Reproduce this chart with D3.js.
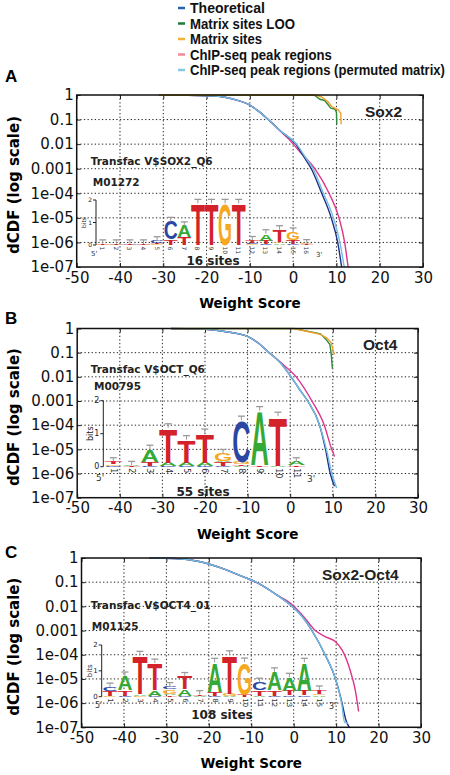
<!DOCTYPE html>
<html><head><meta charset="utf-8">
<script src="https://cdn.jsdelivr.net/npm/d3@7"></script>
<style>body{margin:0;background:#fff}</style>
</head><body><svg id="c" width="450" height="775"></svg>
<script>
// ---------------- DATA ----------------
const xTicks=[-50,-40,-30,-20,-10,0,10,20,30];
const yTicks=[1,0.1,0.01,0.001,1e-4,1e-5,1e-6,1e-7];
const yTickLabels=["1","0.1","0.01","0.001","1e-04","1e-05","1e-06","1e-07"];
const seriesNames=["Theoretical","Matrix sites LOO","Matrix sites","ChIP-seq peak regions","ChIP-seq peak regions (permuted matrix)"];
const panelLetters=["A","B","C"];
const factorNames=["Sox2","Oct4","Sox2-Oct4"];
const matrixNames=["Transfac V$SOX2_Q6","Transfac V$OCT_Q6","Transfac V$OCT4_01"];
const matrixIds=["M01272","M00795","M01125"];
const siteCounts=["16 sites","55 sites","108 sites"];

// curves: [weight score, dCDF]
const sox2Theoretical=[[-31,1],[-25,0.98],[-20,0.93],[-15.75,0.81],[-13,0.62],[-10,0.39],[-8,0.22],[-5.75,0.1],[-3,0.035],[0.6,0.01],[2.5,0.003],[4.2,0.001],[6.6,1e-4],[8.8,1e-5],[10.3,1e-6],[11.2,1e-7]];
const sox2Permuted=[[-31,1],[-25,0.98],[-20,0.93],[-15.75,0.81],[-13,0.62],[-10,0.39],[-8,0.22],[-5.75,0.1],[-3,0.035],[0.8,0.01],[2.8,0.003],[4.6,0.001],[7.0,1e-4],[9.3,1e-5],[10.8,1e-6],[11.8,1e-7]];
const sox2Chip=[[-31,1],[-25,0.98],[-20,0.93],[-15.75,0.81],[-13,0.62],[-10,0.39],[-8,0.22],[-5.75,0.1],[-3,0.035],[-1,0.016],[1.5,0.005],[5.0,0.001],[8.3,1e-4],[10.6,1e-5],[11.9,1e-6],[12.7,1e-7]];
const sox2Loo=[[-31,1],[1.8,1],[5.0,0.97],[6.2,0.67],[7.3,0.6],[8.7,0.29],[9.6,0.27],[10.0,0.2],[10.1,0.065]];
const sox2Sites=[[-31,1],[5,1],[6.5,0.85],[8.0,0.54],[8.9,0.34],[10.4,0.25],[11.0,0.18],[11.1,0.065]];

const oct4Theoretical=[[-28,1],[-22,0.97],[-15.4,0.75],[-12,0.6],[-9.9,0.46],[-7.5,0.25],[-5.2,0.11],[-2,0.033],[0.2,0.01],[2.2,0.003],[4.1,0.001],[6.9,1e-4],[8.3,1e-5],[9.4,1e-6],[10.4,3e-7]];
const oct4Permuted=[[-28,1],[-22,0.97],[-15.4,0.75],[-12,0.6],[-9.9,0.46],[-7.5,0.25],[-5.2,0.11],[-2,0.033],[0.2,0.01],[2.2,0.003],[4.1,0.001],[6.9,1e-4],[8.5,1e-5],[9.8,1e-6],[10.9,2.5e-7]];
const oct4Chip=[[-28,1],[-22,0.97],[-15.4,0.75],[-12,0.6],[-9.9,0.46],[-7.5,0.25],[-5.2,0.11],[-2,0.036],[1.4,0.01],[5.1,0.001],[8.0,1e-4],[9.75,1e-5],[10.1,7e-6],[10.4,5e-6]];
const oct4Loo=[[-28,1],[0.9,1],[4,0.78],[7.1,0.6],[8.3,0.37],[9.3,0.22],[9.6,0.1],[9.9,0.022]];
const oct4Sites=[[-28,1],[0.9,1],[4,0.75],[7.1,0.57],[8.6,0.4],[9.6,0.26],[10,0.14],[10.4,0.085]];

const sox2oct4Theoretical=[[-34,1],[-28,0.95],[-22,0.7],[-16.2,0.34],[-12,0.17],[-8.3,0.09],[-4,0.03],[-0.4,0.01],[2,0.0038],[4.3,0.001],[7.4,1e-4],[9.8,1.07e-5],[11.4,1e-6],[12.3,2e-7],[13.1,1e-7]];
const sox2oct4Permuted=[[-34,1],[-28,0.95],[-22,0.7],[-16.2,0.34],[-12,0.17],[-8.3,0.09],[-4,0.03],[-0.4,0.01],[2,0.0038],[4.3,0.001],[7.4,1e-4],[9.8,1.07e-5],[11.3,1e-6],[12.0,1.6e-7],[12.8,1.5e-7]];
const sox2oct4Chip=[[-34,1],[-28,0.95],[-22,0.7],[-16.2,0.34],[-12,0.17],[-8.3,0.09],[-4,0.03],[-0.4,0.012],[2.7,0.0032],[5.1,0.001],[7.4,5.6e-4],[9.8,3.5e-4],[11.4,1.6e-4],[13.3,2.3e-5],[14.5,3.5e-6],[15.3,4.5e-7]];

// sequence logos: per position, letters bottom->top with heights in bits
const sox2Logo=[
 [["G",0.02],["T",0.03]],[["A",0.02],["T",0.03]],[["C",0.02],["T",0.03]],[["A",0.02],["T",0.03]],
 [["G",0.04],["T",0.05],["C",0.1]],
 [["T",0.25],["C",0.8]],
 [["T",0.35],["A",0.5]],
 [["T",1.85]],[["T",1.85]],[["G",1.85]],[["T",1.85]],
 [["G",0.05],["C",0.05],["T",0.1]],
 [["C",0.05],["T",0.15],["A",0.3]],
 [["A",0.08],["G",0.05],["T",0.55]],
 [["C",0.03],["T",0.2],["G",0.35]],
 [["T",0.03],["G",0.03]]
];
const oct4Logo=[
 [["C",0.03],["G",0.05],["T",0.07]],
 [["T",0.02],["A",0.02]],
 [["C",0.02],["T",0.13],["A",0.38]],
 [["C",0.02],["A",0.1],["T",1.06]],
 [["C",0.02],["A",0.1],["T",0.7]],
 [["C",0.02],["A",0.1],["T",0.9]],
 [["C",0.03],["T",0.1],["A",0.05],["G",0.22]],
 [["A",0.03],["T",0.05],["G",0.07],["C",1.26]],
 [["T",0.04],["A",1.66]],
 [["A",0.03],["T",1.5]],
 [["T",0.05],["A",0.1]]
];
const sox2oct4Logo=[
 [["G",0.04],["T",0.18],["C",0.15]],
 [["C",0.04],["T",0.22],["A",0.54]],
 [["G",0.04],["A",0.06],["T",1.5]],
 [["C",0.03],["A",0.22],["T",1.05]],
 [["T",0.05],["A",0.07],["G",0.17],["C",0.1]],
 [["C",0.03],["A",0.25],["T",0.5]],
 [["A",0.03],["T",0.05]],
 [["C",0.03],["T",0.15],["A",1.15]],
 [["A",0.04],["G",0.08],["T",1.5]],
 [["T",0.08],["G",1.26]],
 [["A",0.04],["T",0.22],["C",0.3]],
 [["C",0.04],["T",0.2],["A",0.72]],
 [["C",0.05],["T",0.18],["A",0.52]],
 [["C",0.05],["T",0.18],["A",1.1]],
 [["A",0.05],["G",0.04],["T",0.17]]
];

// ---------------- STYLE / LAYOUT ----------------
const seriesColors={theo:"#1f2f86",loo:"#2a8a3a",sites:"#f0a126",chip:"#e0338a",perm:"#72bde0"};
const legendColors=["#2565a8","#1e7a3a","#f2b233","#f08a9a","#86c8e0"];
const letterColors={A:"#35a935",C:"#2b46a3",G:"#f6a81f",T:"#d3222a"};
const panels=[
 {x0:76.7,x1:423,y0:95,y1:267,letter:[5,82],
  curves:[[sox2Chip,"chip",true],[sox2Theoretical,"theo",true],[sox2Permuted,"perm",true],[sox2Loo,"loo",false],[sox2Sites,"sites",false]],
  logo:sox2Logo, lg:{ax:96,b0:245,b2:200,p1:102.7,dp:13.6,lw:13,fs:6,five:[91,256],three:[316,257]},
  name:[90.7,165],id:[92.7,186],sites:[213,265],factor:[365,117]},
 {x0:77.2,x1:418,y0:328.5,y1:497.7,letter:[5,324],
  curves:[[oct4Chip,"chip",true],[oct4Theoretical,"theo",true],[oct4Permuted,"perm",true],[oct4Loo,"loo",false],[oct4Sites,"sites",false]],
  logo:oct4Logo, lg:{ax:103.3,b0:466.7,b2:400.7,p1:113.3,dp:18.3,lw:17,fs:8,five:[96,481],three:[307,482]},
  name:[90.7,373],id:[94,390],sites:[203,496],factor:[363,350]},
 {x0:81.5,x1:421,y0:558,y1:727.3,letter:[5,558],
  curves:[[sox2oct4Chip,"chip",true],[sox2oct4Theoretical,"theo",true],[sox2oct4Permuted,"perm",true]],
  logo:sox2oct4Logo, lg:{ax:101.7,b0:696.7,b2:645,p1:110,dp:14.95,lw:14,fs:7,five:[95,708],three:[329,709]},
  name:[90.7,609],id:[91.7,630],sites:[222,719],factor:[322,580]}
];

const svg=d3.select("#c");
svg.append("rect").attr("width",450).attr("height",775).attr("fill","#fff");

// legend (condensed by horizontal scaling)
const legY=[13,28.5,44,59.5,75];
const legW=[75,105,72,142,255];
seriesNames.forEach((n,i)=>{
  svg.append("line").attr("x1",178).attr("x2",185).attr("y1",legY[i]-5).attr("y2",legY[i]-5)
    .attr("stroke",legendColors[i]).attr("stroke-width",2.5);
  const t=svg.append("text").attr("x",0).attr("y",0).text(n)
    .attr("font-family","'Liberation Sans',Arial,sans-serif")
    .attr("font-weight","bold").attr("font-size",15).attr("fill","#111");
  const nat=t.node().getComputedTextLength();
  t.attr("transform",`translate(190,${legY[i]}) scale(${legW[i]/nat},1)`);
});

function drawLetter(g,ch,cx,yb,w,h){
  if(h<0.6){
    g.append("rect").attr("x",cx-w/2).attr("y",yb-Math.max(h,0.5)).attr("width",w).attr("height",Math.max(h,0.5))
     .attr("fill",letterColors[ch]).attr("opacity",0.6);
    return;
  }
  const t=g.append("text").text(ch).attr("font-family","'Liberation Sans',Arial,sans-serif")
    .attr("font-weight","bold").attr("font-size",100).attr("text-anchor","middle").attr("fill",letterColors[ch]);
  const adv=t.node().getComputedTextLength();
  const sx=w/(adv*0.93), sy=h/72;
  t.attr("transform",`translate(${cx},${yb}) scale(${sx},${sy})`);
}

function drawLogo(g,cols,L){
  const by=d3.scaleLinear().domain([0,2]).range([L.b0,L.b2]);
  const pos=d3.scaleLinear().domain([1,cols.length]).range([L.p1,L.p1+L.dp*(cols.length-1)]);
  g.append("line").attr("x1",L.ax).attr("x2",L.ax).attr("y1",by(0)).attr("y2",by(2)).attr("stroke","#222").attr("stroke-width",1);
  [0,1,2].forEach(b=>{
    g.append("line").attr("x1",L.ax-3).attr("x2",L.ax).attr("y1",by(b)).attr("y2",by(b)).attr("stroke","#222");
    g.append("text").attr("x",L.ax-4).attr("y",by(b)+2).text(b).attr("text-anchor","end")
      .attr("font-family","DejaVu Sans,sans-serif").attr("font-size",L.fs).attr("fill","#222");
  });
  g.append("text").attr("transform",`translate(${L.ax-10},${by(1)}) rotate(-90)`).text("bits")
    .attr("text-anchor","middle").attr("font-family","DejaVu Sans,sans-serif").attr("font-size",L.fs).attr("fill","#222");
  cols.forEach((col,i)=>{
    const cx=pos(i+1);
    let acc=0;
    col.forEach(([ch,h])=>{
      const yb=by(acc), yt=by(acc+h);
      drawLetter(g,ch,cx,yb,L.lw,yb-yt);
      acc+=h;
    });
    const top=by(acc);
    g.append("line").attr("x1",cx).attr("x2",cx).attr("y1",top).attr("y2",top-4).attr("stroke","#9a9a9a").attr("stroke-width",1);
    g.append("line").attr("x1",cx-3.5).attr("x2",cx+3.5).attr("y1",top-4).attr("y2",top-4).attr("stroke","#9a9a9a").attr("stroke-width",1.3);
    g.append("text").attr("transform",`translate(${cx},${L.b0+1.5}) rotate(90)`).text(i+1)
      .attr("text-anchor","start").attr("dominant-baseline","central")
      .attr("font-family","DejaVu Sans,sans-serif").attr("font-size",L.fs).attr("fill","#333");
  });
  g.append("text").attr("x",L.five[0]).attr("y",L.five[1]).text("5'").attr("font-family","DejaVu Sans,sans-serif").attr("font-size",L.fs+1).attr("fill","#333");
  g.append("text").attr("x",L.three[0]).attr("y",L.three[1]).text("3'").attr("font-family","DejaVu Sans,sans-serif").attr("font-size",L.fs+1).attr("fill","#333");
}

panels.forEach((P,pi)=>{
  const x=d3.scaleLinear().domain([-50,30]).range([P.x0,P.x1]);
  const y=d3.scaleLog().domain([1e-7,1]).range([P.y1,P.y0]);
  const g=svg.append("g");
  const cid="clip"+pi;
  g.append("clipPath").attr("id",cid).append("rect").attr("x",P.x0).attr("y",P.y0-1).attr("width",P.x1-P.x0).attr("height",P.y1-P.y0+2);
  const grid=g.append("g").attr("stroke","#222").attr("stroke-width",1).attr("stroke-dasharray","1.3,2.3");
  xTicks.slice(1,-1).forEach(v=>grid.append("line").attr("x1",x(v)).attr("x2",x(v)).attr("y1",P.y0).attr("y2",P.y1));
  yTicks.slice(1,-1).forEach(v=>grid.append("line").attr("x1",P.x0).attr("x2",P.x1).attr("y1",y(v)).attr("y2",y(v)));
  drawLogo(g.append("g"),P.logo,P.lg);
  const fontAxis="DejaVu Sans,sans-serif";
  const ay=g.append("g").attr("transform",`translate(${P.x0},0)`)
    .call(d3.axisLeft(y).tickValues(yTicks).tickFormat((d,i)=>yTickLabels[i]).tickSizeInner(-4).tickSizeOuter(0).tickPadding(3));
  ay.selectAll("text").attr("font-family",fontAxis).attr("font-size",15).attr("fill","#111");
  ay.select(".domain").remove();
  g.append("g").attr("transform",`translate(${P.x1},0)`)
    .call(d3.axisRight(y).tickValues(yTicks).tickFormat("").tickSizeInner(-4).tickSizeOuter(0)).select(".domain").remove();
  const ax=g.append("g").attr("transform",`translate(0,${P.y1})`)
    .call(d3.axisBottom(x).tickValues(xTicks).tickFormat(d=>String(d)).tickSizeInner(-4).tickSizeOuter(0).tickPadding(5));
  ax.selectAll("text").attr("font-family",fontAxis).attr("font-size",15).attr("fill","#111");
  ax.select(".domain").remove();
  g.append("g").attr("transform",`translate(0,${P.y0})`)
    .call(d3.axisTop(x).tickValues(xTicks).tickFormat("").tickSizeInner(-4).tickSizeOuter(0)).select(".domain").remove();
  g.selectAll(".tick line").attr("stroke","#222");
  const cg=g.append("g").attr("clip-path",`url(#${cid})`);
  P.curves.forEach(([data,key,smooth])=>{
    const line=d3.line().x(d=>x(d[0])).y(d=>y(d[1])).curve(smooth?d3.curveMonotoneX:d3.curveLinear);
    cg.append("path").attr("d",line(data)).attr("fill","none").attr("stroke",seriesColors[key]).attr("stroke-width",1.4);
  });
  g.append("rect").attr("x",P.x0).attr("y",P.y0).attr("width",P.x1-P.x0).attr("height",P.y1-P.y0)
    .attr("fill","none").attr("stroke","#111").attr("stroke-width",1.5);
  g.append("text").attr("x",P.letter[0]).attr("y",P.letter[1]).text(panelLetters[pi])
    .attr("font-family","'Liberation Sans',Arial,sans-serif").attr("font-weight","bold").attr("font-size",17);
  g.append("text").attr("transform",`translate(18.5,${(P.y0+P.y1)/2+4}) rotate(-90)`).text("dCDF (log scale)")
    .attr("text-anchor","middle").attr("font-family","DejaVu Sans,sans-serif").attr("font-weight","bold").attr("font-size",15);
  g.append("text").attr("x",(P.x0+P.x1)/2).attr("y",P.y1+41).text("Weight Score")
    .attr("text-anchor","middle").attr("font-family","DejaVu Sans,sans-serif").attr("font-weight","bold").attr("font-size",13.5);
  g.append("text").attr("x",P.name[0]).attr("y",P.name[1]).text(matrixNames[pi])
    .attr("font-family","DejaVu Sans,sans-serif").attr("font-weight","bold").attr("font-size",10.5).attr("fill","#222");
  g.append("text").attr("x",P.id[0]).attr("y",P.id[1]).text(matrixIds[pi])
    .attr("font-family","DejaVu Sans,sans-serif").attr("font-weight","bold").attr("font-size",10.5).attr("fill","#222");
  g.append("text").attr("x",P.sites[0]).attr("y",P.sites[1]).text(siteCounts[pi]).attr("text-anchor","middle")
    .attr("font-family","DejaVu Sans,sans-serif").attr("font-weight","bold").attr("font-size",12).attr("fill","#222");
  g.append("text").attr("x",P.factor[0]).attr("y",P.factor[1]).text(factorNames[pi])
    .attr("font-family","'Liberation Sans',Arial,sans-serif").attr("font-weight","bold").attr("font-size",15.5).attr("fill","#222");
});
</script></body></html>
